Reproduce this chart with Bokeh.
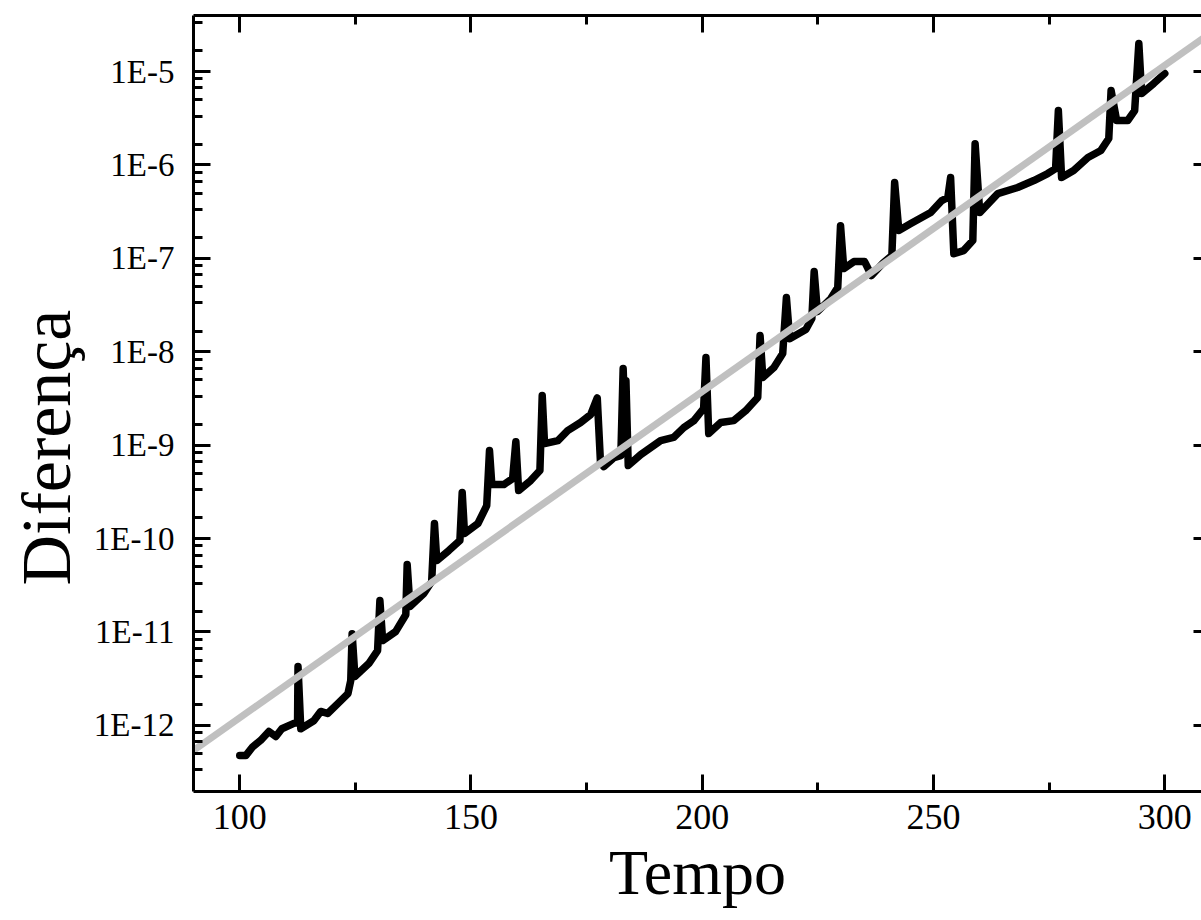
from bokeh.plotting import figure
from bokeh.models import Range1d, FixedTicker, LinearAxis, LogAxis, CustomJSTickFormatter, Title
from bokeh.embed import file_html
from bokeh.resources import INLINE

# ---- data ----
tempo = [100.0, 101.3, 102.8, 104.5, 106.3, 107.8, 109.1, 111.7, 112.5, 112.6, 113.2,
         116.0, 117.5, 119.0, 121.2, 123.4, 124.0, 124.3, 124.9, 127.9, 129.8, 130.3,
         130.9, 133.7, 135.9, 136.2, 136.8, 139.8, 141.5, 142.1, 142.6, 145.2, 147.6,
         148.1, 148.6, 151.5, 153.4, 154.0, 154.5, 157.1, 159.0, 159.7, 160.3, 162.9,
         164.9, 165.4, 165.9, 168.8, 170.9, 173.7, 175.9, 177.3, 178.0, 178.7, 180.9,
         182.4, 182.9, 183.2, 183.5, 184.0, 186.7, 191.0, 193.8, 196.0, 198.2, 200.3,
         200.8, 201.4, 204.0, 206.8, 209.4, 212.0, 212.5, 213.1, 215.5, 217.4, 218.2,
         218.9, 222.4, 223.7, 224.2, 224.9, 227.8, 229.3, 229.9, 230.6, 232.8, 235.1,
         236.6, 239.2, 241.0, 241.6, 242.5, 245.1, 249.4, 251.8, 253.1, 253.7, 254.4,
         256.5, 258.5, 259.0, 260.0, 263.9, 268.2, 271.7, 274.7, 276.4, 277.0, 277.7,
         280.3, 283.4, 286.2, 287.9, 288.4, 289.6, 292.0, 293.5, 294.4, 295.0, 297.6,
         300.0]
diferenca = [4.75e-13, 4.75e-13, 5.9e-13, 6.9e-13, 8.6e-13, 7.6e-13, 9.2e-13, 1.05e-12,
             1.07e-12, 4.26e-12, 9.2e-13,
             1.12e-12, 1.41e-12, 1.34e-12, 1.71e-12, 2.19e-12, 3.02e-12, 9.6e-12, 3.33e-12,
             4.59e-12, 6.32e-12, 2.17e-11,
             8.09e-12, 1.01e-11, 1.53e-11, 5.27e-11, 1.87e-11, 2.58e-11, 3.47e-11, 1.45e-10,
             5.81e-11, 7.45e-11, 9.53e-11,
             3.11e-10, 1.13e-10, 1.45e-10, 2.25e-10, 8.75e-10, 3.79e-10, 3.79e-10, 4.39e-10,
             1.09e-9, 3.27e-10, 4.18e-10,
             5.35e-10, 3.40e-9, 1.04e-9, 1.12e-9, 1.43e-9, 1.75e-9, 2.13e-9, 3.2e-9, 6.5e-10,
             5.9e-10, 7.36e-10,
             7.74e-10, 6.6e-9, 2.5e-9, 4.9e-9, 6.05e-10, 7.93e-10, 1.12e-9, 1.21e-9, 1.54e-9,
             1.83e-9, 2.47e-9,
             8.67e-9, 1.33e-9, 1.75e-9, 1.83e-9, 2.34e-9, 3.24e-9, 1.49e-8, 5.30e-9, 6.78e-9,
             9.57e-9, 3.80e-8,
             1.38e-8, 1.73e-8, 2.27e-8, 7.22e-8, 2.69e-8, 3.71e-8, 4.87e-8, 2.24e-7, 7.78e-8,
             9.24e-8, 9.24e-8,
             6.55e-8, 9.02e-8, 1.07e-7, 6.48e-7, 1.99e-7, 2.36e-7, 3.09e-7, 4.16e-7, 4.48e-7,
             7.33e-7, 1.12e-7,
             1.21e-7, 1.55e-7, 1.69e-6, 3.09e-7, 4.94e-7, 5.73e-7, 6.81e-7, 8.09e-7, 9.14e-7,
             3.82e-6, 7.33e-7,
             8.71e-7, 1.20e-6, 1.43e-6, 1.92e-6, 6.26e-6, 2.99e-6, 2.99e-6, 3.82e-6, 2.00e-5,
             5.81e-6, 7.44e-6,
             9.53e-6]

# exponential fit line (grey), given by its two end points
fit_tempo = [90.0, 310.0]
fit_diferenca = [5.4e-13, 2.6e-5]

# ticks
x_major = [100, 150, 200, 250, 300]
x_minor = [75, 125, 175, 225, 275, 325]
y_major = [1e-12, 1e-11, 1e-10, 1e-9, 1e-8, 1e-7, 1e-6, 1e-5]
y_minor_mant = [1.6667, 3.3333, 5.0, 6.6667, 8.3333]
y_minor = [m * 10.0 ** e for e in range(-14, -4) for m in y_minor_mant]

FONT = "Liberation Serif"
BLACK = "#000000"
GREY = "#C0C0C0"

p = figure(width=1201, height=920,
           x_range=Range1d(90, 307.95), y_range=Range1d(1.96e-13, 3.98e-5),
           y_axis_type="log", output_backend="svg", toolbar_location=None,
           min_border_left=193, min_border_right=0, min_border_top=15,
           min_border_bottom=129)
p.background_fill_color = "white"
p.border_fill_color = "white"
p.outline_line_color = None
p.grid.visible = False


def style_axis(ax, ticks, minor, label_size, show_labels, tick_in=17, minor_in=9):
    ax.ticker = FixedTicker(ticks=ticks, minor_ticks=minor)
    ax.axis_line_color = BLACK
    ax.axis_line_width = 3
    ax.major_tick_line_color = BLACK
    ax.major_tick_line_width = 3
    ax.minor_tick_line_color = BLACK
    ax.minor_tick_line_width = 3
    ax.major_tick_in = tick_in
    ax.major_tick_out = 0
    ax.minor_tick_in = minor_in
    ax.minor_tick_out = 0
    ax.major_label_text_font = FONT
    if show_labels:
        ax.major_label_text_font_size = label_size
        ax.major_label_text_color = BLACK
    else:
        ax.major_label_text_font_size = "1px"
        ax.major_label_text_color = None
        ax.major_label_standoff = 0
        ax.axis_label_standoff = 0


xb = p.below[0]
style_axis(xb, x_major, x_minor, "36px", True)
xb.major_label_standoff = 13
xb.axis_label = "Tempo"
xb.axis_label_text_font = FONT
xb.axis_label_text_font_style = "normal"
xb.axis_label_text_font_size = "64px"
xb.axis_label_text_color = BLACK
xb.axis_label_standoff = 5

yl = p.left[0]
style_axis(yl, y_major, y_minor, "33px", True)
yl.formatter = CustomJSTickFormatter(
    code="return '1E' + Math.round(Math.log10(tick)).toString();")
yl.major_label_standoff = 19

xt = LinearAxis()
style_axis(xt, x_major, x_minor, "1px", False)
p.add_layout(xt, "above")

# right edge of the original frame lies just outside the picture: only tick stubs show
yr = LogAxis()
style_axis(yr, y_major, y_minor, "1px", False, tick_in=8, minor_in=0)
yr.axis_line_color = None
yr.minor_tick_line_color = None
p.add_layout(yr, "right")

# y-axis title, placed lower than the frame centre as in the reference
ytitle = Title(text="Diferença", align="left", offset=206, standoff=10,
               vertical_align="middle",
               text_font=FONT, text_font_size="70px", text_font_style="normal",
               text_color=BLACK)
p.add_layout(ytitle, "left")

p.line(tempo, diferenca, line_color=BLACK, line_width=7.5,
       line_join="round", line_cap="round")
p.line(fit_tempo, fit_diferenca, line_color=GREY, line_width=7)

open("out.html", "w").write(file_html(p, INLINE, "Diferença"))
